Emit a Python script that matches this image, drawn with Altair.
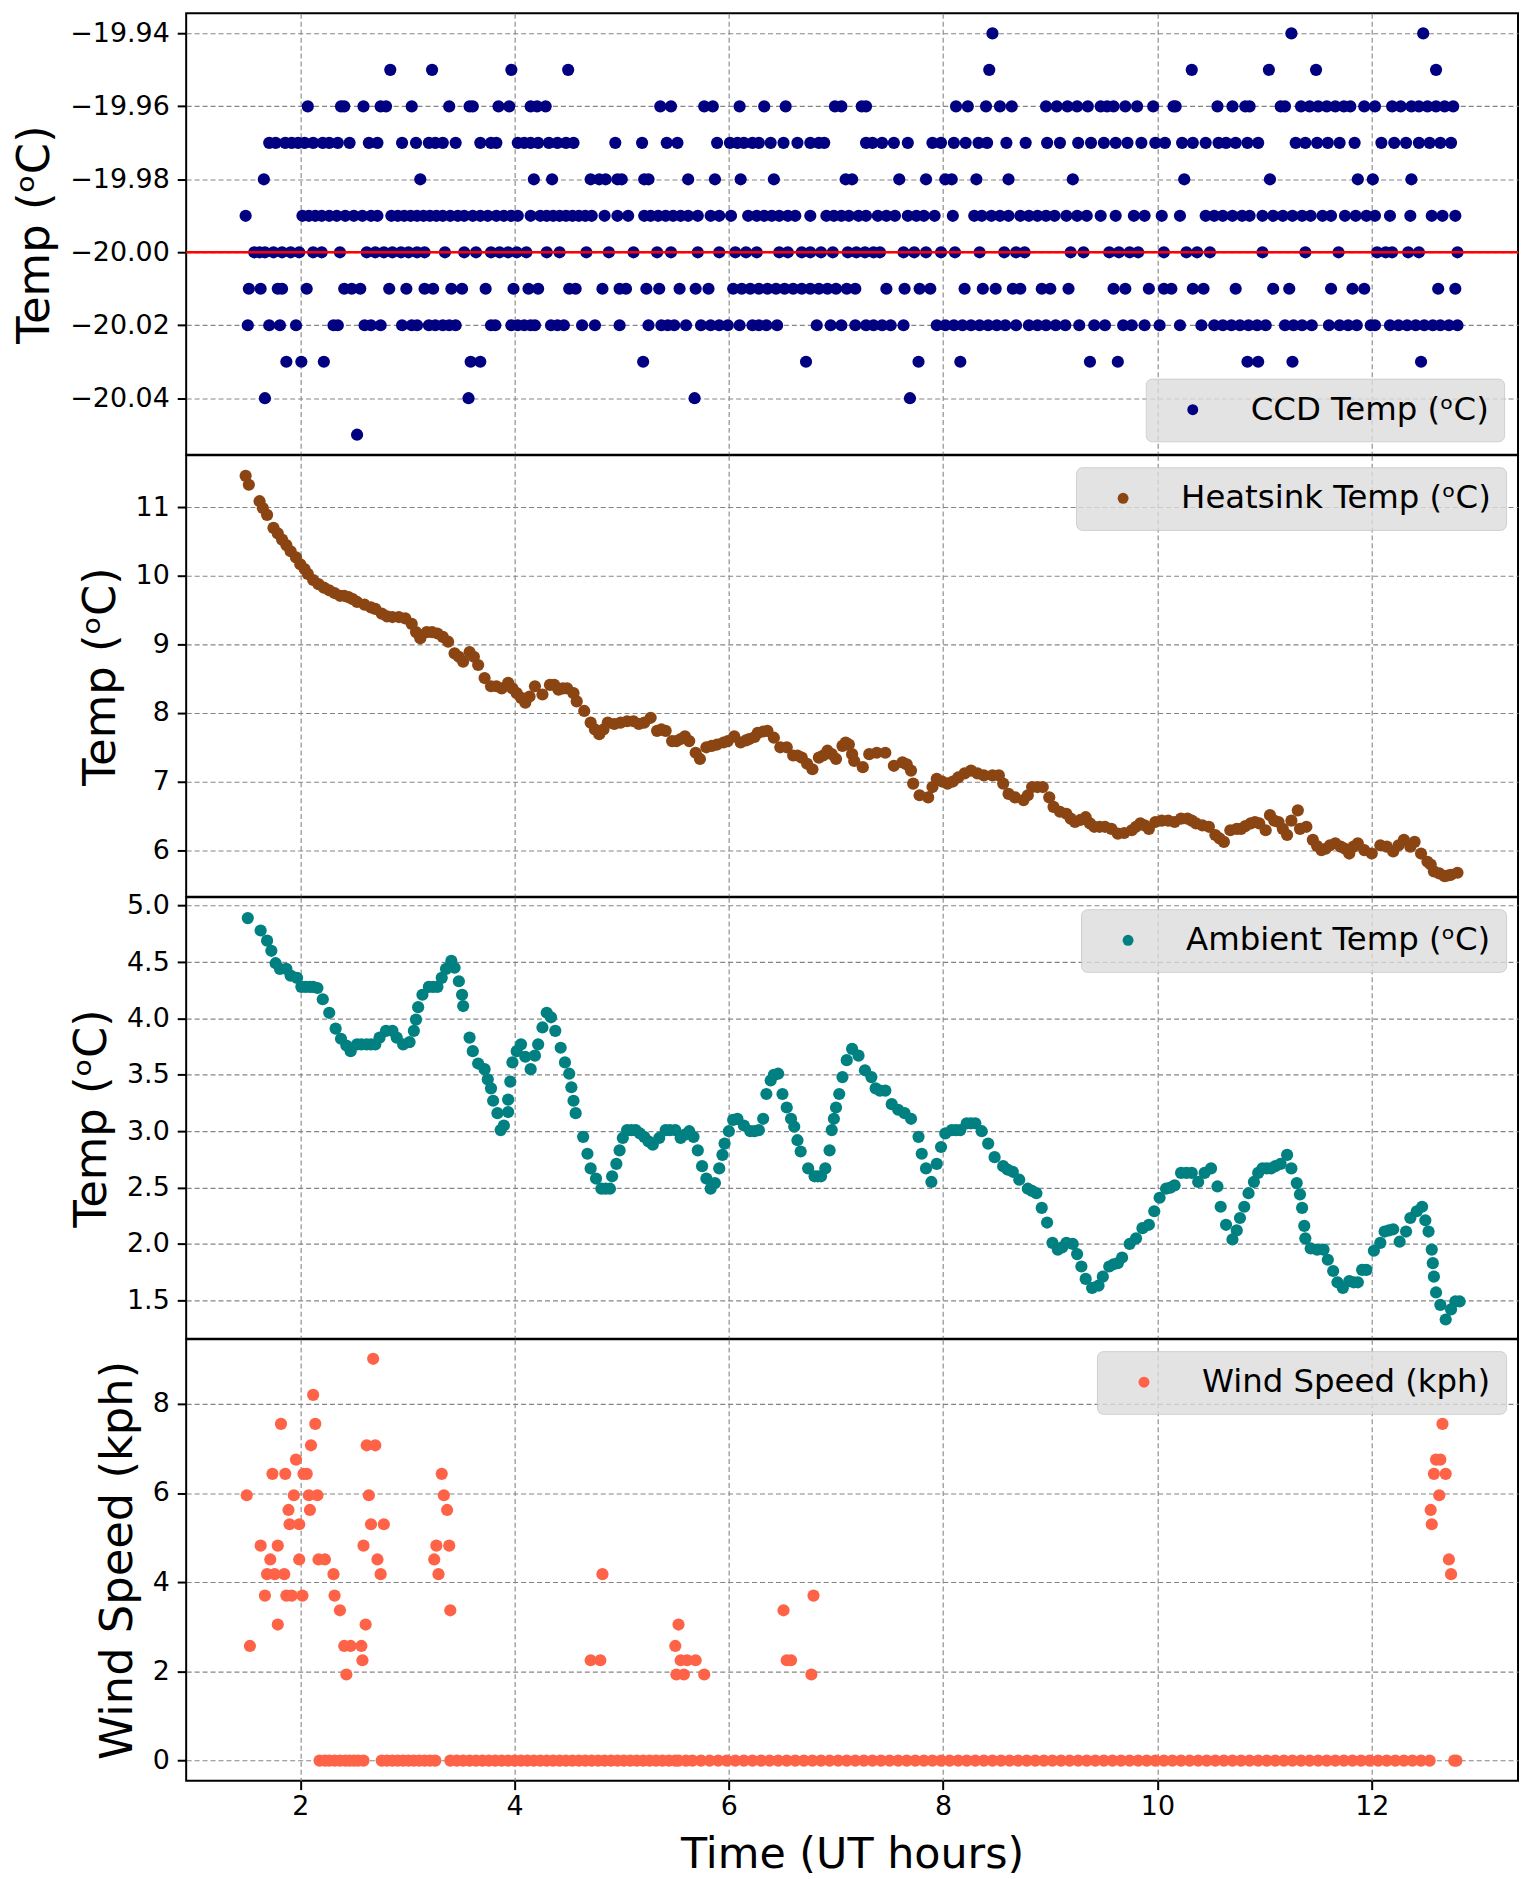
import altair as alt
import pandas as pd

FONT = "DejaVu Sans"

# ---- shared x axis ----
x_ticks = [2, 4, 6, 8, 10, 12]
x_domain = [0.935, 13.365]

# ---- CCD temperature: times (UT hours) at each recorded level ----
ccd_m1994 = [8.46, 11.25, 12.48]
ccd_m1995 = [2.84, 3.23, 3.97, 4.50, 8.43, 10.32, 11.04, 11.48, 12.60]
ccd_m1996 = [2.07, 2.38, 2.41, 2.59, 2.75, 2.80, 3.04, 3.39, 3.58, 3.61, 3.85, 3.95, 4.15, 4.21, 4.29,
             5.36, 5.46, 5.77, 5.85, 6.10, 6.33, 6.53, 6.99, 7.05, 7.24, 7.28, 8.12, 8.23, 8.40, 8.53,
             8.64, 8.96, 9.06, 9.16, 9.25, 9.35, 9.47, 9.53, 9.59, 9.70, 9.81, 9.96, 10.15, 10.17,
             10.56, 10.70, 10.82, 10.86, 11.15, 11.19, 11.34, 11.42, 11.50, 11.58, 11.66, 11.74, 11.80,
             11.93, 12.03, 12.19, 12.27, 12.37, 12.44, 12.52, 12.60, 12.68, 12.76]
ccd_m1997 = [1.71, 1.77, 1.86, 1.92, 1.98, 2.04, 2.12, 2.21, 2.27, 2.35, 2.46, 2.64, 2.72, 2.95, 3.08,
             3.20, 3.26, 3.33, 3.45, 3.68, 3.78, 3.83, 4.03, 4.09, 4.15, 4.22, 4.32, 4.40, 4.48, 4.55,
             4.94, 5.19, 5.42, 5.52, 5.89, 6.01, 6.08, 6.14, 6.22, 6.28, 6.39, 6.51, 6.64, 6.76, 6.84,
             6.89, 7.28, 7.34, 7.43, 7.54, 7.67, 7.90, 7.98, 8.10, 8.21, 8.33, 8.41, 8.59, 8.77, 8.97,
             9.09, 9.26, 9.38, 9.50, 9.61, 9.72, 9.85, 9.98, 10.07, 10.23, 10.33, 10.45, 10.57, 10.64,
             10.73, 10.84, 10.94, 11.29, 11.38, 11.49, 11.59, 11.70, 11.84, 12.09, 12.21, 12.32, 12.44,
             12.54, 12.64, 12.74]
ccd_m1998 = [1.66, 3.12, 4.18, 4.35, 4.71, 4.79, 4.85, 4.96, 5.00, 5.21, 5.25, 5.62, 5.87, 6.11, 6.42,
             7.09, 7.15, 7.59, 7.84, 8.02, 8.08, 8.31, 8.61, 9.21, 10.25, 11.05, 11.87, 12.01, 12.37]
ccd_m1999 = [1.49, 2.02, 2.08, 2.14, 2.20, 2.27, 2.34, 2.42, 2.50, 2.58, 2.66, 2.72, 2.85, 2.91, 2.97,
             3.03, 3.09, 3.15, 3.21, 3.27, 3.33, 3.40, 3.47, 3.53, 3.61, 3.68, 3.75, 3.83, 3.90, 3.97,
             4.03, 4.15, 4.24, 4.30, 4.36, 4.42, 4.48, 4.54, 4.60, 4.66, 4.72, 4.84, 4.96, 5.06, 5.21,
             5.27, 5.34, 5.41, 5.48, 5.55, 5.62, 5.71, 5.83, 5.91, 6.02, 6.18, 6.26, 6.33, 6.40, 6.47,
             6.55, 6.62, 6.76, 6.91, 6.98, 7.05, 7.12, 7.21, 7.28, 7.39, 7.47, 7.55, 7.67, 7.75, 7.82,
             7.92, 8.09, 8.29, 8.36, 8.45, 8.53, 8.61, 8.72, 8.80, 8.88, 8.96, 9.04, 9.15, 9.25, 9.34,
             9.47, 9.61, 9.78, 9.88, 10.04, 10.21, 10.45, 10.53, 10.61, 10.70, 10.79, 10.86, 10.98,
             11.08, 11.17, 11.26, 11.35, 11.43, 11.54, 11.62, 11.75, 11.85, 11.95, 12.03, 12.17, 12.36,
             12.56, 12.66, 12.78]
ccd_m2000 = [1.57, 1.62, 1.67, 1.75, 1.83, 1.91, 1.99, 2.12, 2.20, 2.37, 2.62, 2.70, 2.78, 2.86, 2.94,
             3.01, 3.09, 3.16, 3.35, 3.53, 3.64, 3.78, 3.86, 3.94, 4.02, 4.11, 4.30, 4.42, 4.67, 4.88,
             5.11, 5.33, 5.46, 5.71, 5.91, 6.06, 6.16, 6.26, 6.47, 6.55, 6.68, 6.76, 6.86, 6.97, 7.11,
             7.19, 7.27, 7.35, 7.41, 7.63, 7.73, 7.84, 7.98, 8.11, 8.34, 8.57, 8.68, 8.76, 9.19, 9.31,
             9.55, 9.64, 9.74, 9.82, 10.06, 10.27, 10.37, 10.49, 10.98, 11.38, 11.69, 12.05, 12.13,
             12.19, 12.34, 12.44, 12.80]
ccd_m2001 = [1.52, 1.63, 1.79, 1.83, 2.06, 2.41, 2.48, 2.56, 2.83, 2.99, 3.16, 3.24, 3.41, 3.51, 3.73,
             3.99, 4.13, 4.22, 4.51, 4.57, 4.82, 4.98, 5.04, 5.23, 5.35, 5.54, 5.69, 5.81, 6.04, 6.12,
             6.20, 6.28, 6.36, 6.44, 6.52, 6.60, 6.68, 6.76, 6.84, 6.92, 7.00, 7.10, 7.18, 7.47, 7.64,
             7.78, 7.88, 8.20, 8.37, 8.49, 8.65, 8.72, 8.92, 9.00, 9.17, 9.59, 9.70, 9.92, 10.06, 10.13,
             10.33, 10.43, 10.73, 11.08, 11.23, 11.62, 11.82, 11.93, 12.62, 12.78]
ccd_m2002 = [1.51, 1.71, 1.81, 1.96, 2.31, 2.35, 2.60, 2.66, 2.75, 2.95, 3.04, 3.09, 3.20, 3.26, 3.33,
             3.39, 3.45, 3.78, 3.82, 3.97, 4.03, 4.09, 4.15, 4.19, 4.34, 4.40, 4.46, 4.63, 4.75, 4.98,
             5.25, 5.37, 5.43, 5.49, 5.60, 5.74, 5.83, 5.91, 5.99, 6.10, 6.22, 6.28, 6.35, 6.45, 6.82,
             6.95, 7.05, 7.18, 7.28, 7.35, 7.43, 7.51, 7.63, 7.94, 8.02, 8.10, 8.18, 8.26, 8.34, 8.42,
             8.50, 8.58, 8.68, 8.80, 8.88, 8.96, 9.05, 9.14, 9.27, 9.41, 9.51, 9.68, 9.76, 9.88, 10.02,
             10.21, 10.41, 10.53, 10.61, 10.69, 10.77, 10.85, 10.93, 11.01, 11.19, 11.27, 11.35, 11.44,
             11.60, 11.70, 11.78, 11.86, 11.99, 12.03, 12.17, 12.25, 12.33, 12.41, 12.49, 12.57, 12.64,
             12.72, 12.80]
ccd_m2003 = [1.87, 2.01, 2.22, 3.59, 3.68, 5.20, 6.72, 7.77, 8.16, 9.37, 9.63, 10.84, 10.94, 11.26, 12.46]
ccd_m2004 = [1.67, 3.57, 5.68, 7.69]
ccd_m2005 = [2.53]

ccd_level_values = [-19.94, -19.95, -19.96, -19.97, -19.98, -19.99, -20.00, -20.01, -20.02, -20.03, -20.04, -20.05]
ccd_level_times = [ccd_m1994, ccd_m1995, ccd_m1996, ccd_m1997, ccd_m1998, ccd_m1999, ccd_m2000,
                   ccd_m2001, ccd_m2002, ccd_m2003, ccd_m2004, ccd_m2005]
ccd_setpoint = -20.00

# ---- Heatsink temperature (two passes of readings) ----
heat_t = [1.49, 1.52, 1.62, 1.69, 1.75, 1.83, 1.91, 2.00, 2.07, 2.17, 2.27, 2.37, 2.45, 2.53, 2.66,
          2.76, 2.86, 2.98, 3.04, 3.12, 3.18, 3.28, 3.38, 3.44, 3.52, 3.58, 3.66, 3.72, 3.78, 3.88,
          3.94, 4.02, 4.10, 4.14, 4.19, 4.26, 4.33, 4.41, 4.49, 4.55, 4.58, 4.65, 4.71, 4.79, 4.87,
          4.99, 5.11, 5.21, 5.27, 5.33, 5.41, 5.47, 5.55, 5.59, 5.63, 5.69, 5.73, 5.79, 5.89, 5.99,
          6.05, 6.11, 6.19, 6.27, 6.36, 6.42, 6.48, 6.54, 6.60, 6.68, 6.78, 6.84, 6.92, 7.00, 7.06,
          7.12, 7.17, 7.25, 7.31, 7.46, 7.54, 7.62, 7.70, 7.72, 7.78, 7.86, 7.94, 8.04, 8.14, 8.26,
          8.38, 8.52, 8.61, 8.75, 8.83, 8.93, 8.99, 9.03, 9.15, 9.23, 9.33, 9.41, 9.51, 9.63, 9.76,
          9.84, 9.92, 10.04, 10.16, 10.28, 10.36, 10.48, 10.54, 10.62, 10.68, 10.78, 10.87, 10.95,
          11.01, 11.05, 11.13, 11.21, 11.25, 11.31, 11.33, 11.39, 11.45, 11.53, 11.61, 11.71, 11.79,
          11.87, 12.00, 12.08, 12.20, 12.30, 12.36, 12.40, 12.46, 12.52, 12.58, 12.68, 12.74, 12.80]
heat_v = [11.46, 11.33, 11.09, 10.89, 10.70, 10.53, 10.36, 10.17, 10.03, 9.88, 9.79, 9.71, 9.69, 9.62,
          9.54, 9.45, 9.40, 9.38, 9.30, 9.09, 9.18, 9.16, 9.04, 8.87, 8.75, 8.89, 8.70, 8.51, 8.39,
          8.36, 8.44, 8.29, 8.15, 8.24, 8.39, 8.27, 8.41, 8.34, 8.36, 8.29, 8.17, 8.03, 7.86, 7.69,
          7.86, 7.86, 7.88, 7.86, 7.93, 7.74, 7.74, 7.59, 7.62, 7.66, 7.59, 7.42, 7.33, 7.50, 7.54,
          7.59, 7.66, 7.57, 7.62, 7.71, 7.74, 7.64, 7.50, 7.50, 7.38, 7.35, 7.18, 7.35, 7.45, 7.33,
          7.52, 7.54, 7.30, 7.21, 7.40, 7.42, 7.23, 7.28, 7.16, 6.97, 6.80, 6.77, 7.04, 6.97, 7.06,
          7.16, 7.09, 7.09, 6.82, 6.73, 6.92, 6.92, 6.77, 6.63, 6.53, 6.41, 6.48, 6.34, 6.34, 6.24,
          6.29, 6.39, 6.31, 6.43, 6.41, 6.46, 6.39, 6.34, 6.22, 6.12, 6.29, 6.31, 6.39, 6.39, 6.29,
          6.51, 6.41, 6.22, 6.43, 6.58, 6.31, 6.34, 6.15, 6.00, 6.07, 6.05, 5.95, 6.10, 5.95, 6.07,
          5.98, 6.15, 6.05, 6.12, 5.95, 5.83, 5.69, 5.62, 5.64, 5.67]
heat_t_extra = [1.65, 1.79, 1.87, 1.96, 2.04, 2.12, 2.22, 2.32, 2.41, 2.49, 2.60, 2.70, 2.81, 2.92,
                3.08, 3.23, 3.33, 3.48, 3.62, 3.83, 3.98, 4.06, 4.37, 4.45, 4.75, 4.83, 4.93, 5.05,
                5.16, 5.37, 5.51, 5.84, 5.95, 6.16, 6.24, 6.32, 6.64, 6.73, 6.88, 6.96, 7.09, 7.15,
                7.38, 7.66, 7.90, 7.99, 8.09, 8.20, 8.32, 8.46, 8.56, 8.67, 8.79, 8.88, 9.09, 9.19,
                9.28, 9.37, 9.46, 9.57, 9.69, 9.80, 9.88, 9.98, 10.10, 10.22, 10.32, 10.42, 10.58,
                10.74, 10.82, 10.91, 11.09, 11.17, 11.49, 11.57, 11.66, 11.75, 11.83, 11.93, 12.14,
                12.25, 12.55, 12.63, 12.71]
heat_v_extra = [10.99, 10.62, 10.45, 10.27, 10.10, 9.94, 9.83, 9.75, 9.71, 9.66, 9.58, 9.52, 9.41,
                9.40, 9.18, 9.18, 9.11, 8.82, 8.82, 8.39, 8.36, 8.22, 8.41, 8.36, 7.76, 7.76, 7.84,
                7.88, 7.84, 7.76, 7.59, 7.52, 7.57, 7.60, 7.65, 7.73, 7.38, 7.26, 7.38, 7.40, 7.57,
                7.40, 7.42, 7.25, 6.92, 7.00, 7.00, 7.12, 7.12, 7.09, 6.97, 6.77, 6.80, 6.92, 6.56,
                6.46, 6.44, 6.39, 6.34, 6.31, 6.25, 6.34, 6.36, 6.41, 6.43, 6.46, 6.43, 6.36, 6.17,
                6.31, 6.35, 6.41, 6.43, 6.31, 6.06, 6.02, 6.10, 6.02, 6.05, 6.00, 6.05, 6.07, 5.79,
                5.66, 5.63]

# ---- Ambient temperature (two passes of readings) ----
amb_t = [1.51, 1.63, 1.69, 1.73, 1.77, 1.81, 1.87, 1.91, 1.97, 2.01, 2.09, 2.16, 2.21, 2.27, 2.33,
         2.38, 2.43, 2.47, 2.53, 2.62, 2.70, 2.74, 2.80, 2.86, 2.90, 2.96, 3.02, 3.06, 3.08, 3.10,
         3.14, 3.20, 3.28, 3.32, 3.36, 3.41, 3.44, 3.48, 3.51, 3.52, 3.58, 3.61, 3.66, 3.72, 3.75,
         3.78, 3.80, 3.84, 3.87, 3.90, 3.94, 3.94, 3.96, 3.98, 4.02, 4.06, 4.10, 4.15, 4.19, 4.22,
         4.26, 4.30, 4.34, 4.38, 4.43, 4.47, 4.51, 4.53, 4.55, 4.57, 4.64, 4.68, 4.71, 4.76, 4.81,
         4.89, 4.91, 4.95, 4.98, 5.01, 5.05, 5.13, 5.21, 5.29, 5.35, 5.41, 5.50, 5.55, 5.63, 5.67,
         5.71, 5.75, 5.79, 5.83, 5.87, 5.91, 5.94, 5.96, 6.00, 6.04, 6.08, 6.14, 6.20, 6.28, 6.32,
         6.35, 6.39, 6.46, 6.50, 6.54, 6.58, 6.61, 6.64, 6.67, 6.74, 6.80, 6.86, 6.90, 6.94, 6.96,
         6.98, 7.00, 7.03, 7.06, 7.10, 7.15, 7.21, 7.27, 7.33, 7.37, 7.46, 7.52, 7.58, 7.64, 7.70,
         7.77, 7.80, 7.84, 7.89, 7.94, 7.98, 8.02, 8.08, 8.16, 8.22, 8.30, 8.36, 8.42, 8.48, 8.56,
         8.65, 8.71, 8.79, 8.87, 8.92, 8.97, 9.02, 9.07, 9.15, 9.21, 9.25, 9.29, 9.33, 9.39, 9.45,
         9.49, 9.55, 9.63, 9.67, 9.74, 9.80, 9.86, 9.92, 9.97, 10.02, 10.08, 10.16, 10.22, 10.32,
         10.38, 10.44, 10.50, 10.56, 10.59, 10.64, 10.70, 10.74, 10.77, 10.81, 10.85, 10.90, 10.98,
         11.06, 11.15, 11.21, 11.25, 11.30, 11.33, 11.35, 11.37, 11.38, 11.43, 11.49, 11.55, 11.59,
         11.64, 11.68, 11.73, 11.79, 11.87, 11.91, 11.95, 12.02, 12.08, 12.12, 12.20, 12.26, 12.32,
         12.36, 12.42, 12.47, 12.50, 12.53, 12.56, 12.57, 12.58, 12.60, 12.64, 12.69, 12.74, 12.78,
         12.82]
amb_v = [4.89, 4.78, 4.69, 4.60, 4.49, 4.44, 4.44, 4.38, 4.36, 4.28, 4.28, 4.27, 4.17, 4.05, 3.91,
         3.82, 3.76, 3.71, 3.77, 3.77, 3.77, 3.83, 3.89, 3.89, 3.83, 3.77, 3.79, 3.89, 3.99, 4.10,
         4.21, 4.28, 4.28, 4.36, 4.44, 4.51, 4.45, 4.33, 4.21, 4.11, 3.83, 3.71, 3.60, 3.55, 3.46,
         3.38, 3.27, 3.16, 3.01, 3.05, 3.17, 3.28, 3.44, 3.61, 3.71, 3.77, 3.66, 3.55, 3.67, 3.77,
         3.92, 4.05, 4.01, 3.89, 3.74, 3.61, 3.51, 3.39, 3.27, 3.16, 2.95, 2.80, 2.67, 2.58, 2.49,
         2.49, 2.60, 2.71, 2.83, 2.94, 3.01, 3.01, 2.95, 2.88, 2.94, 3.01, 3.01, 2.94, 3.00, 2.95,
         2.83, 2.69, 2.58, 2.49, 2.54, 2.67, 2.79, 2.89, 3.00, 3.10, 3.11, 3.05, 3.00, 3.01, 3.11,
         3.33, 3.45, 3.51, 3.33, 3.21, 3.11, 3.04, 2.92, 2.82, 2.67, 2.60, 2.60, 2.67, 2.83, 3.01,
         3.11, 3.21, 3.33, 3.48, 3.63, 3.73, 3.67, 3.54, 3.48, 3.38, 3.36, 3.24, 3.19, 3.16, 3.11,
         2.95, 2.80, 2.67, 2.55, 2.71, 2.86, 2.98, 3.01, 3.01, 3.07, 3.07, 3.00, 2.89, 2.77, 2.69,
         2.64, 2.57, 2.49, 2.45, 2.32, 2.19, 2.01, 1.95, 2.01, 2.00, 1.91, 1.80, 1.69, 1.61, 1.63,
         1.71, 1.80, 1.83, 1.88, 2.00, 2.05, 2.14, 2.17, 2.29, 2.41, 2.49, 2.52, 2.63, 2.63,
         2.55, 2.63, 2.67, 2.51, 2.33, 2.17, 2.04, 2.12, 2.23, 2.33, 2.45, 2.55, 2.67,
         2.67, 2.71, 2.79, 2.67, 2.54, 2.44, 2.32, 2.16, 2.05, 1.96, 1.95, 1.95, 1.86,
         1.76, 1.66, 1.61, 1.67, 1.66, 1.77, 1.77, 1.94, 2.01, 2.11, 2.13, 2.02, 2.11,
         2.23, 2.29, 2.33, 2.21, 2.11, 1.95, 1.83, 1.71, 1.57, 1.46, 1.33, 1.42, 1.49,
         1.49]
amb_t_extra = [2.05, 2.12, 2.57, 2.66, 3.24, 4.85, 5.09, 5.17, 5.25, 5.45, 5.59, 6.24, 6.42, 6.83,
               7.41, 8.12, 8.26, 8.60, 8.83, 9.11, 9.59, 10.12, 10.27, 10.94, 11.02, 11.10, 11.83,
               12.16]
amb_v_extra = [4.28, 4.28, 3.77, 3.77, 4.28, 2.49, 3.01, 2.98, 2.91, 3.01, 2.97, 3.00, 3.50, 2.60,
               3.36, 3.01, 3.07, 2.66, 2.47, 1.97, 1.82, 2.50, 2.63, 2.63, 2.67, 2.69, 1.66, 2.12]

# ---- Wind speed ----
wind_t = [1.50, 1.53, 1.63, 1.67, 1.69, 1.72, 1.74, 1.76, 1.79, 1.79, 1.82, 1.85, 1.86, 1.87, 1.89,
          1.90, 1.92, 1.94, 1.96, 1.99, 1.99, 2.02, 2.03, 2.06, 2.08, 2.09, 2.10, 2.12, 2.14, 2.16,
          2.17, 2.23, 2.31, 2.32, 2.37, 2.41, 2.43, 2.47, 2.57, 2.58, 2.61, 2.59, 2.62, 2.64, 2.66,
          2.68, 2.70, 2.72, 2.75, 2.78, 3.25, 3.27, 3.29, 3.32, 3.34, 3.37, 3.39, 3.40, 4.71, 4.80,
          4.82, 5.50, 5.53, 5.51, 5.55, 5.58, 5.61, 5.69, 5.77, 6.51, 6.54, 6.58, 6.77, 6.79,
          12.66, 12.60, 12.64, 12.58, 12.69, 12.63, 12.55, 12.56, 12.72, 12.74]
wind_v = [5.95, 2.57, 4.82, 3.70, 4.18, 4.51, 6.43, 4.18, 4.82, 3.05, 7.55, 4.18, 6.43, 3.70, 5.62,
          5.30, 3.70, 5.95, 6.75, 5.30, 4.51, 3.70, 6.43, 6.43, 5.95, 5.62, 7.07, 8.20, 7.55, 5.95,
          4.51, 4.51, 4.18, 3.70, 3.37, 2.57, 1.93, 2.57, 2.57, 2.25, 3.05, 4.82, 7.07, 5.95, 5.30,
          9.01, 7.07, 4.51, 4.18, 5.30, 4.51, 4.82, 4.18, 6.43, 5.95, 5.62, 4.82, 3.37, 2.25, 2.25,
          4.18, 2.57, 3.05, 1.93, 2.25, 1.93, 2.25, 2.25, 1.93, 3.37, 2.25, 2.25, 1.93, 3.70,
          7.55, 6.75, 6.75, 6.43, 6.43, 5.95, 5.62, 5.30, 4.51, 4.18]
wind_zero_t = [2.18, 2.23, 2.27, 2.32, 2.37, 2.42, 2.46, 2.50, 2.54, 2.59,
               2.76, 2.81, 2.86, 2.91, 2.96, 3.01, 3.06, 3.11, 3.16, 3.21, 3.26,
               3.40, 3.46, 3.52, 3.58, 3.64, 3.70, 3.76, 3.82, 3.88, 3.94, 4.00, 4.06, 4.12, 4.18,
               4.24, 4.30, 4.36, 4.42, 4.48, 4.54, 4.60, 4.66, 4.72, 4.78, 4.84, 4.90, 4.96, 5.02,
               5.08, 5.14, 5.20, 5.26, 5.32, 5.38, 5.44, 5.50, 5.53, 5.60,
               5.66, 5.74, 5.82, 5.90, 5.98, 6.06, 6.14, 6.22, 6.30, 6.38, 6.46, 6.54, 6.62, 6.70,
               6.78, 6.86, 6.94, 7.02, 7.10, 7.18, 7.26, 7.34, 7.42, 7.50, 7.58, 7.66, 7.74, 7.82,
               7.90, 7.98, 8.06, 8.14, 8.22, 8.30, 8.38, 8.46, 8.54, 8.62, 8.70, 8.78, 8.86, 8.94,
               9.02, 9.10, 9.18, 9.26, 9.34, 9.42, 9.50, 9.58, 9.66, 9.74, 9.82, 9.90, 9.98, 10.06,
               10.14, 10.22, 10.30, 10.38, 10.46, 10.54, 10.62, 10.70, 10.78, 10.86, 10.94, 11.02,
               11.10, 11.18, 11.26, 11.34, 11.42, 11.50, 11.58, 11.66, 11.74, 11.82, 11.90, 11.98,
               12.06, 12.14, 12.22, 12.30, 12.38, 12.46, 12.54, 12.77, 12.79]

# ---- labels / colours ----
names = ["CCD Temp (ᵒC)", "Heatsink Temp (ᵒC)", "Ambient Temp (ᵒC)", "Wind Speed (kph)"]
colors = ["#000080", "#8B4513", "#008080", "#FF6347"]

# ---- tables ----
ccd_rows = []
for lv, ts in zip(ccd_level_values, ccd_level_times):
    for t in ts:
        ccd_rows.append({"t": t, "v": lv, "s": names[0]})
ccd_df = pd.DataFrame(ccd_rows)
heat_df = pd.DataFrame({"t": heat_t + heat_t_extra, "v": heat_v + heat_v_extra, "s": names[1]})
amb_df = pd.DataFrame({"t": amb_t + amb_t_extra, "v": amb_v + amb_v_extra, "s": names[2]})
wind_df = pd.DataFrame({"t": wind_t + wind_zero_t,
                        "v": wind_v + [0.0] * len(wind_zero_t), "s": names[3]})

W = 1338
H = 443.5


def x_enc(bottom):
    if bottom:
        ax = alt.Axis(values=x_ticks, format="d", title="Time (UT hours)", grid=True,
                      ticks=True, labels=True)
    else:
        ax = alt.Axis(values=x_ticks, title=None, grid=True, ticks=False, labels=False)
    return alt.X("t:Q", scale=alt.Scale(domain=x_domain, nice=False, zero=False), axis=ax)


def legend(orient, offset):
    return alt.Legend(title=None, orient=orient, offset=offset, padding=15,
                      fillColor="rgba(220,220,220,0.8)", strokeColor="rgba(200,200,200,0.8)",
                      cornerRadius=6, labelFontSize=32.5, labelFont=FONT, labelColor="black",
                      labelLimit=0,
                      symbolType="circle", symbolSize=120, symbolStrokeWidth=0,
                      symbolOffset=16, labelOffset=42)


def panel(df, idx, ydomain, yticks, yfmt, ytitle, orient, offset=12, bottom=False):
    return alt.Chart(df).mark_circle(size=150, opacity=1).encode(
        x=x_enc(bottom),
        y=alt.Y("v:Q", scale=alt.Scale(domain=ydomain, nice=False, zero=False),
                axis=alt.Axis(values=yticks, format=yfmt, title=ytitle, grid=True)),
        color=alt.Color("s:N", scale=alt.Scale(domain=[names[idx]], range=[colors[idx]]),
                        legend=legend(orient, offset)),
    ).properties(width=W, height=H)


p1_pts = panel(ccd_df, 0, [-20.0555, -19.9345], [-20.04, -20.02, -20.00, -19.98, -19.96, -19.94],
               ".2f", "Temp (ᵒC)", "bottom-right", offset=14)
p1_rule = alt.Chart(pd.DataFrame({"v": [ccd_setpoint]})).mark_rule(color="red", strokeWidth=2.5).encode(
    y=alt.Y("v:Q"))
p1 = alt.layer(p1_pts, p1_rule).properties(width=W, height=H)

p2 = panel(heat_df, 1, [5.32, 11.76], [6, 7, 8, 9, 10, 11], "d", "Temp (ᵒC)", "top-right")
p3 = panel(amb_df, 2, [1.16, 5.075], [1.5, 2.0, 2.5, 3.0, 3.5, 4.0, 4.5, 5.0], ".1f",
           "Temp (ᵒC)", "top-right")
p4 = panel(wind_df, 3, [-0.45, 9.45], [0, 2, 4, 6, 8], "d", "Wind Speed (kph)", "top-right",
           bottom=True)

chart = alt.vconcat(p1, p2, p3, p4, spacing=0, bounds="flush").resolve_scale(
    color="independent"
).properties(
    padding={"left": 4, "top": 0, "right": 0, "bottom": 0}
).configure_view(
    stroke="black", strokeWidth=2
).configure_axis(
    labelFont=FONT, titleFont=FONT, labelFontSize=27, titleFontSize=45,
    titleFontWeight="normal", labelColor="black", titleColor="black",
    tickColor="black", tickSize=9, tickWidth=2, domain=False,
    gridColor="#858585", gridDash=[5, 3], gridWidth=1.1,
    labelPadding=8, titlePadding=12
).configure_axisX(
    titlePadding=14, labelPadding=4, titleFontSize=43
)

chart.save("out.html", embed_options={"renderer": "svg", "actions": False})
